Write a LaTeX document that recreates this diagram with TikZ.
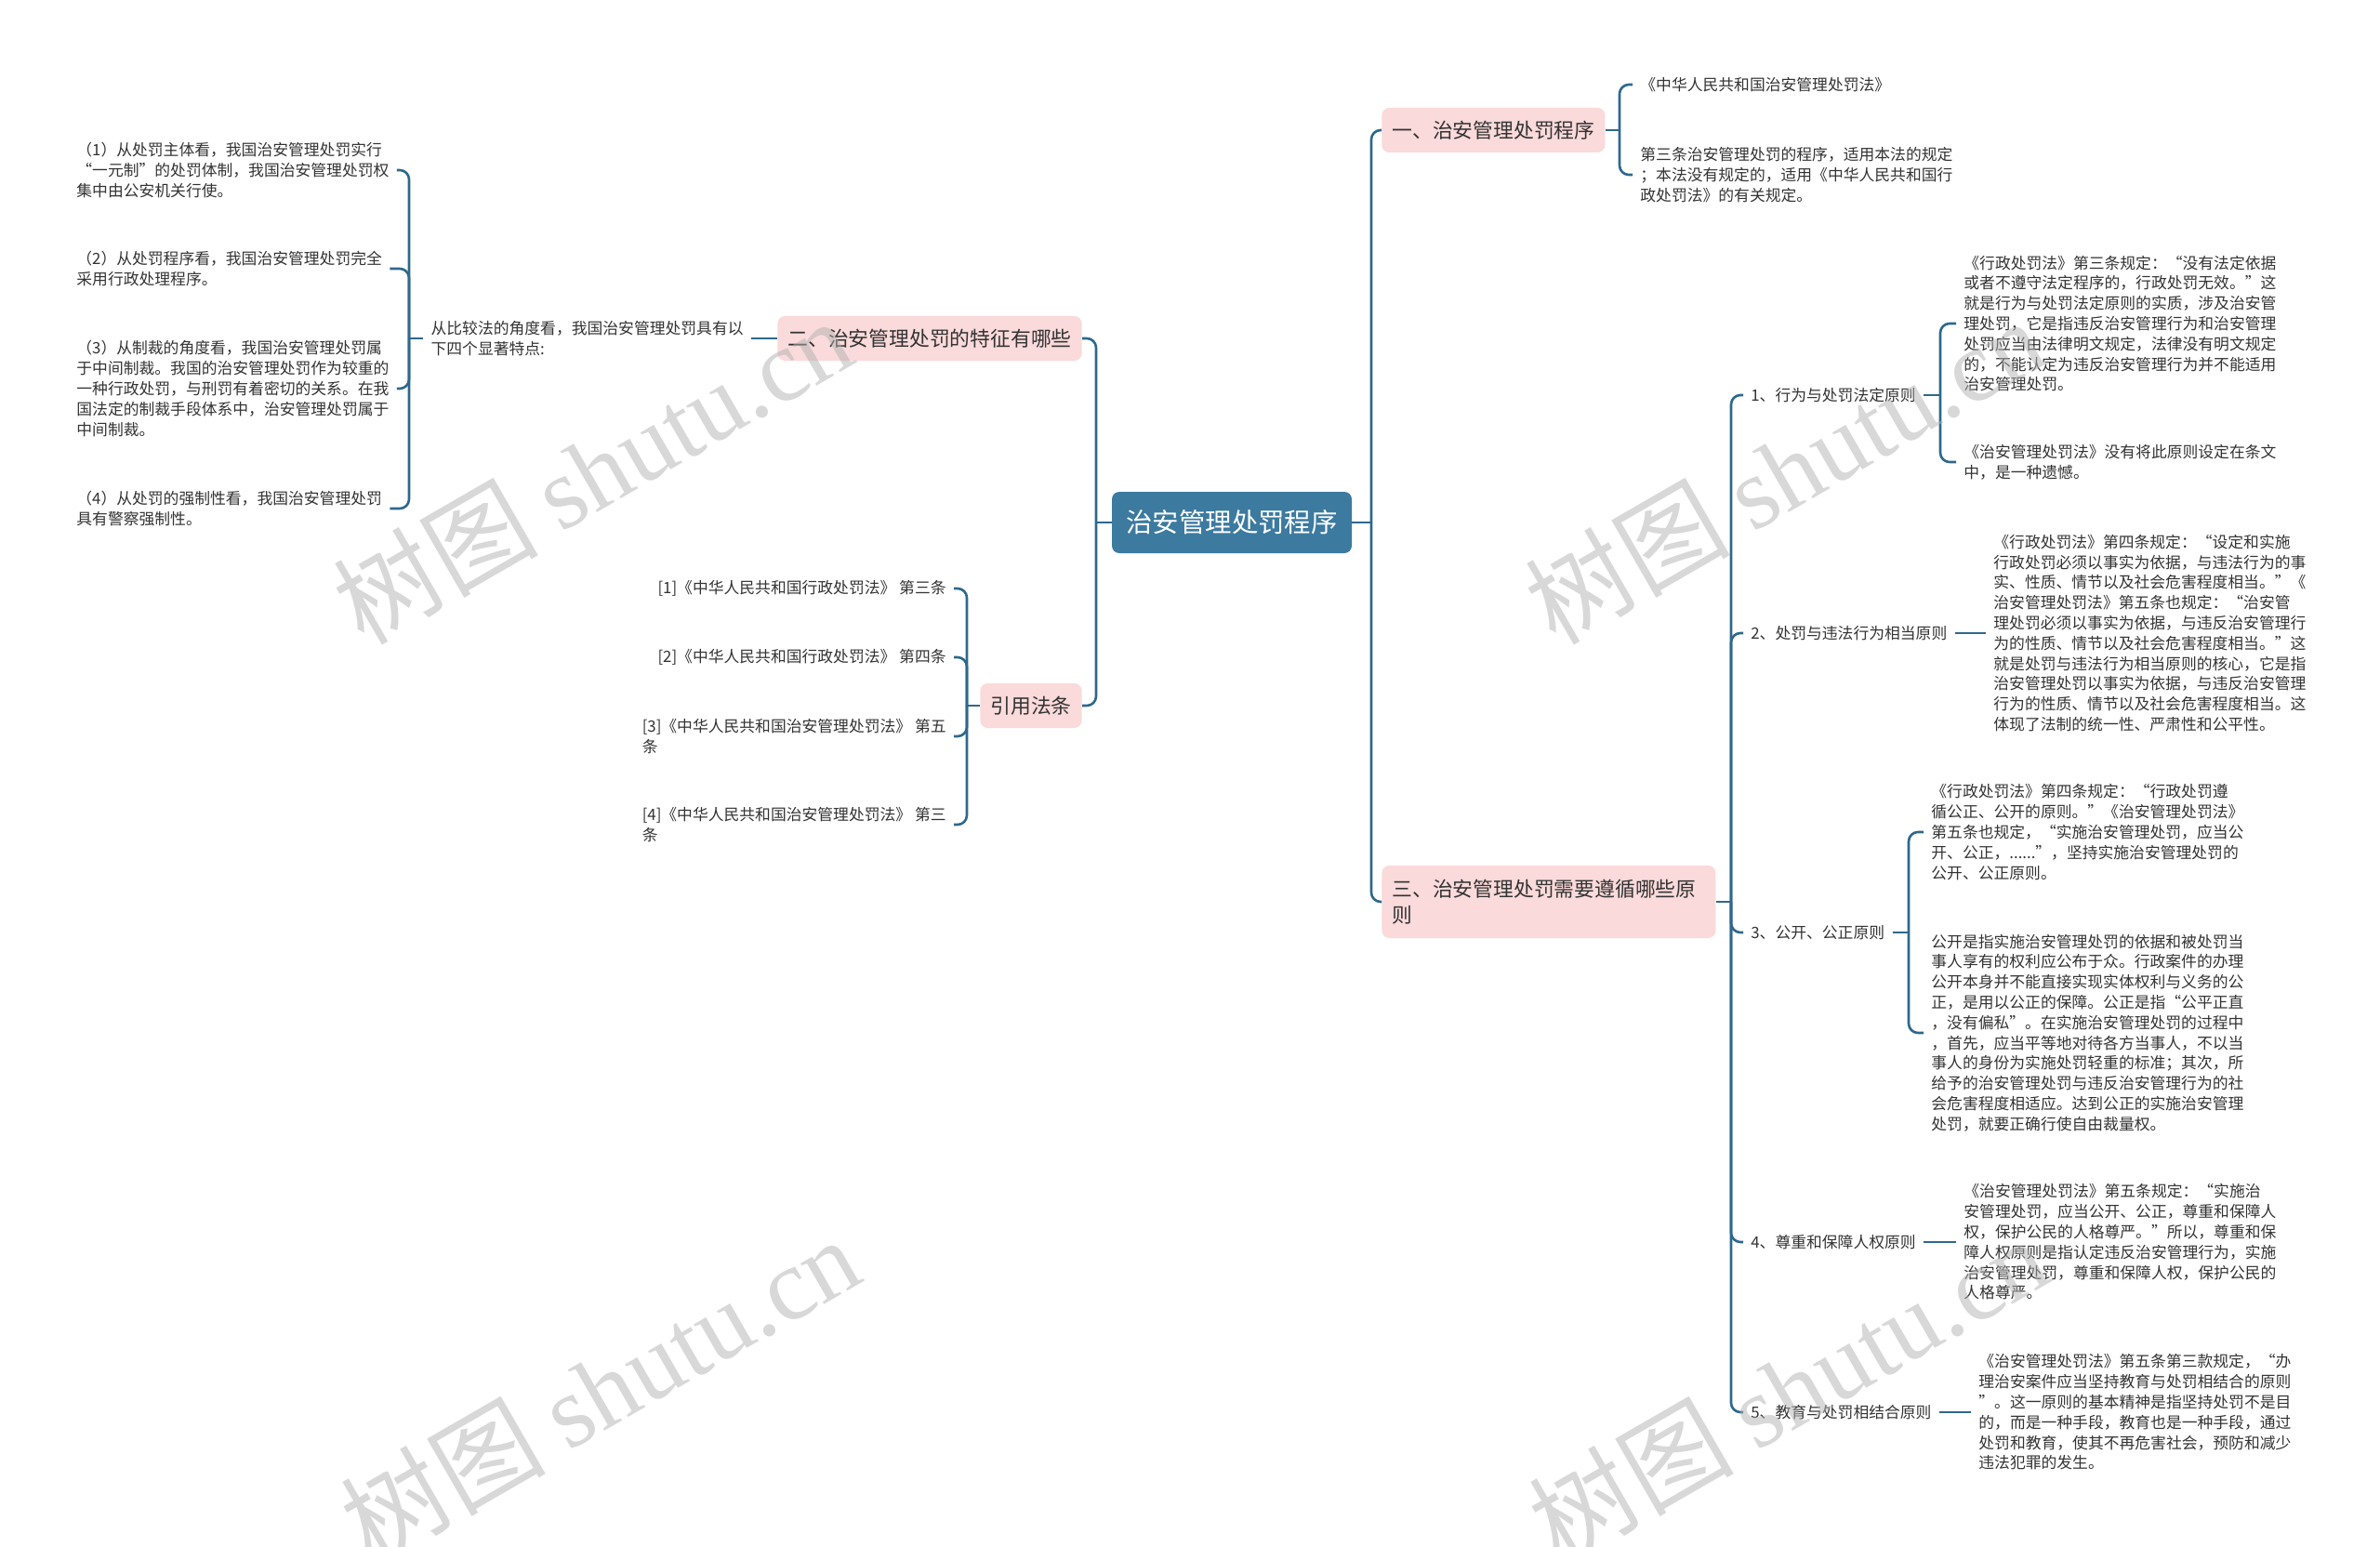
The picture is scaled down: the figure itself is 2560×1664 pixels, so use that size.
\documentclass[tikz,border=0pt]{standalone}
\usepackage{fontspec}
\setmainfont{Noto Sans CJK SC}
\newfontfamily\wmserif{Liberation Serif}
\definecolor{rootblue}{RGB}{60,122,160}
\definecolor{linec}{RGB}{46,104,140}
\definecolor{pinkbg}{RGB}{250,218,218}
\definecolor{txt}{RGB}{51,51,51}
\tikzset{
  root/.style={fill=rootblue, text=white, rounded corners=4pt, minimum width=129pt,
    minimum height=33pt, inner sep=0pt, font=\fontsize{14.2}{17}\selectfont},
  lvone/.style={fill=pinkbg, text=txt, rounded corners=4pt, minimum height=24pt,
    inner xsep=5.5pt, inner ysep=0pt, font=\fontsize{10.9}{13.9}\selectfont},
  leaf/.style={text=txt, font=\fontsize{8.4}{10.9}\selectfont, align=left,
    inner xsep=4pt, inner ysep=1pt},
  conn/.style={draw=linec, line width=1.3pt, rounded corners=5pt},
  wm/.style={rotate=30, text=black!30, opacity=0.5, inner sep=0pt,
    font=\fontsize{55}{55}\selectfont}
}
\begin{document}
\begin{tikzpicture}[x=0.5pt,y=-0.5pt]
\fill[white] (0,0) rectangle (2560,1664);
\useasboundingbox (0,0) rectangle (2560,1664);

% ---------- nodes ----------
\node[root] (root) at (1325,562) {治安管理处罚程序};
\node[lvone, anchor=west] (n1) at (1486,140) {一、治安管理处罚程序};
\node[lvone, anchor=west, align=left, text width=168.5pt, minimum height=39pt] (n3) at (1486,970) {三、治安管理处罚需要遵循哪些原\\则};
\node[lvone, anchor=east] (n2) at (1164,364) {二、治安管理处罚的特征有哪些};
\node[lvone, anchor=east] (ncite) at (1164,759) {引用法条};

% right: branch one
\node[leaf, anchor=west] (a1) at (1756,91) {《中华人民共和国治安管理处罚法》};
\node[leaf, anchor=west] (a2) at (1756,188) {第三条治安管理处罚的程序，适用本法的规定\\；本法没有规定的，适用《中华人民共和国行\\政处罚法》的有关规定。};

% right: branch three
\node[leaf, anchor=west] (b1) at (1875,425) {1、行为与处罚法定原则};
\node[leaf, anchor=west] (b2) at (1875,681) {2、处罚与违法行为相当原则};
\node[leaf, anchor=west] (b3) at (1875,1003) {3、公开、公正原则};
\node[leaf, anchor=west] (b4) at (1875,1336) {4、尊重和保障人权原则};
\node[leaf, anchor=west] (b5) at (1875,1519) {5、教育与处罚相结合原则};

\node[leaf, anchor=west] (c11) at (2104,348) {《行政处罚法》第三条规定：“没有法定依据\\或者不遵守法定程序的，行政处罚无效。”这\\就是行为与处罚法定原则的实质，涉及治安管\\理处罚，它是指违反治安管理行为和治安管理\\处罚应当由法律明文规定，法律没有明文规定\\的，不能认定为违反治安管理行为并不能适用\\治安管理处罚。};
\node[leaf, anchor=west] (c12) at (2104,497) {《治安管理处罚法》没有将此原则设定在条文\\中，是一种遗憾。};
\node[leaf, anchor=west] (c2) at (2136,681) {《行政处罚法》第四条规定：“设定和实施\\行政处罚必须以事实为依据，与违法行为的事\\实、性质、情节以及社会危害程度相当。”《\\治安管理处罚法》第五条也规定：“治安管\\理处罚必须以事实为依据，与违反治安管理行\\为的性质、情节以及社会危害程度相当。”这\\就是处罚与违法行为相当原则的核心，它是指\\治安管理处罚以事实为依据，与违反治安管理\\行为的性质、情节以及社会危害程度相当。这\\体现了法制的统一性、严肃性和公平性。};
\node[leaf, anchor=west] (c31) at (2069,895) {《行政处罚法》第四条规定：“行政处罚遵\\循公正、公开的原则。”《治安管理处罚法》\\第五条也规定，“实施治安管理处罚，应当公\\开、公正，......”，坚持实施治安管理处罚的\\公开、公正原则。};
\node[leaf, anchor=west] (c32) at (2069,1111) {公开是指实施治安管理处罚的依据和被处罚当\\事人享有的权利应公布于众。行政案件的办理\\公开本身并不能直接实现实体权利与义务的公\\正，是用以公正的保障。公正是指“公平正直\\，没有偏私”。在实施治安管理处罚的过程中\\，首先，应当平等地对待各方当事人，不以当\\事人的身份为实施处罚轻重的标准；其次，所\\给予的治安管理处罚与违反治安管理行为的社\\会危害程度相适应。达到公正的实施治安管理\\处罚，就要正确行使自由裁量权。};
\node[leaf, anchor=west] (c4) at (2104,1336) {《治安管理处罚法》第五条规定：“实施治\\安管理处罚，应当公开、公正，尊重和保障人\\权，保护公民的人格尊严。”所以，尊重和保\\障人权原则是指认定违反治安管理行为，实施\\治安管理处罚，尊重和保障人权，保护公民的\\人格尊严。};
\node[leaf, anchor=west] (c5) at (2120,1519) {《治安管理处罚法》第五条第三款规定，“办\\理治安案件应当坚持教育与处罚相结合的原则\\”。这一原则的基本精神是指坚持处罚不是目\\的，而是一种手段，教育也是一种手段，通过\\处罚和教育，使其不再危害社会，预防和减少\\违法犯罪的发生。};

% left: branch two
\node[leaf, anchor=east] (d) at (808,364) {从比较法的角度看，我国治安管理处罚具有以\\下四个显著特点:};
\node[leaf, anchor=west] (e1) at (74,183) {（1）从处罚主体看，我国治安管理处罚实行\\“一元制”的处罚体制，我国治安管理处罚权\\集中由公安机关行使。};
\node[leaf, anchor=west] (e2) at (74,289) {（2）从处罚程序看，我国治安管理处罚完全\\采用行政处理程序。};
\node[leaf, anchor=west] (e3) at (74,418) {（3）从制裁的角度看，我国治安管理处罚属\\于中间制裁。我国的治安管理处罚作为较重的\\一种行政处罚，与刑罚有着密切的关系。在我\\国法定的制裁手段体系中，治安管理处罚属于\\中间制裁。};
\node[leaf, anchor=west] (e4) at (74,547) {（4）从处罚的强制性看，我国治安管理处罚\\具有警察强制性。};

% left: citations
\node[leaf, anchor=east] (f1) at (1026,633) {[1]《中华人民共和国行政处罚法》 第三条};
\node[leaf, anchor=east] (f2) at (1026,707) {[2]《中华人民共和国行政处罚法》 第四条};
\node[leaf, anchor=east] (f3) at (1026,792) {[3]《中华人民共和国治安管理处罚法》 第五\\条};
\node[leaf, anchor=east] (f4) at (1026,887) {[4]《中华人民共和国治安管理处罚法》 第三\\条};

% ---------- bus coordinates ----------
\coordinate (rbus) at (1475,562);
\coordinate (lbus) at (1179,562);
\coordinate (k1) at (1742,140);
\coordinate (k3) at (1862,970);
\coordinate (kb1) at (2087,425);
\coordinate (kb3) at (2053,1003);
\coordinate (kd) at (440,364);
\coordinate (kc) at (1040,759);

% ---------- connectors ----------
\draw[conn] (root.east) -- (rbus);
\draw[conn] (rbus) |- (n1.west);
\draw[conn] (rbus) |- (n3.west);
\draw[conn] (root.west) -- (lbus);
\draw[conn] (lbus) |- (n2.east);
\draw[conn] (lbus) |- (ncite.east);

\draw[conn] (n1.east) -- (k1);
\draw[conn] (k1) |- (a1.west);
\draw[conn] (k1) |- (a2.west);

\draw[conn] (n3.east) -- (k3);
\foreach \c in {b1,b2,b3,b4,b5} \draw[conn] (k3) |- (\c.west);

\draw[conn] (b1.east) -- (kb1);
\draw[conn] (kb1) |- (c11.west);
\draw[conn] (kb1) |- (c12.west);
\draw[conn] (b2.east) -- (c2.west);
\draw[conn] (b3.east) -- (kb3);
\draw[conn] (kb3) |- (c31.west);
\draw[conn] (kb3) |- (c32.west);
\draw[conn] (b4.east) -- (c4.west);
\draw[conn] (b5.east) -- (c5.west);

\draw[conn] (n2.west) -- (d.east);
\draw[conn] (d.west) -- (kd);
\foreach \c in {e1,e2,e3,e4} \draw[conn] (kd) |- (\c.east);

\draw[conn] (ncite.west) -- (kc);
\foreach \c in {f1,f2,f3,f4} \draw[conn] (kc) |- (\c.east);

% ---------- watermarks ----------
\node[wm] (w1) at (637,506) {树图 {\wmserif shutu.cn}};
\node[wm] (w2) at (645,1494) {树图 {\wmserif shutu.cn}};
\node[wm] (w3) at (1919,506) {树图 {\wmserif shutu.cn}};
\node[wm] (w4) at (1923,1494) {树图 {\wmserif shutu.cn}};
\end{tikzpicture}
\end{document}
